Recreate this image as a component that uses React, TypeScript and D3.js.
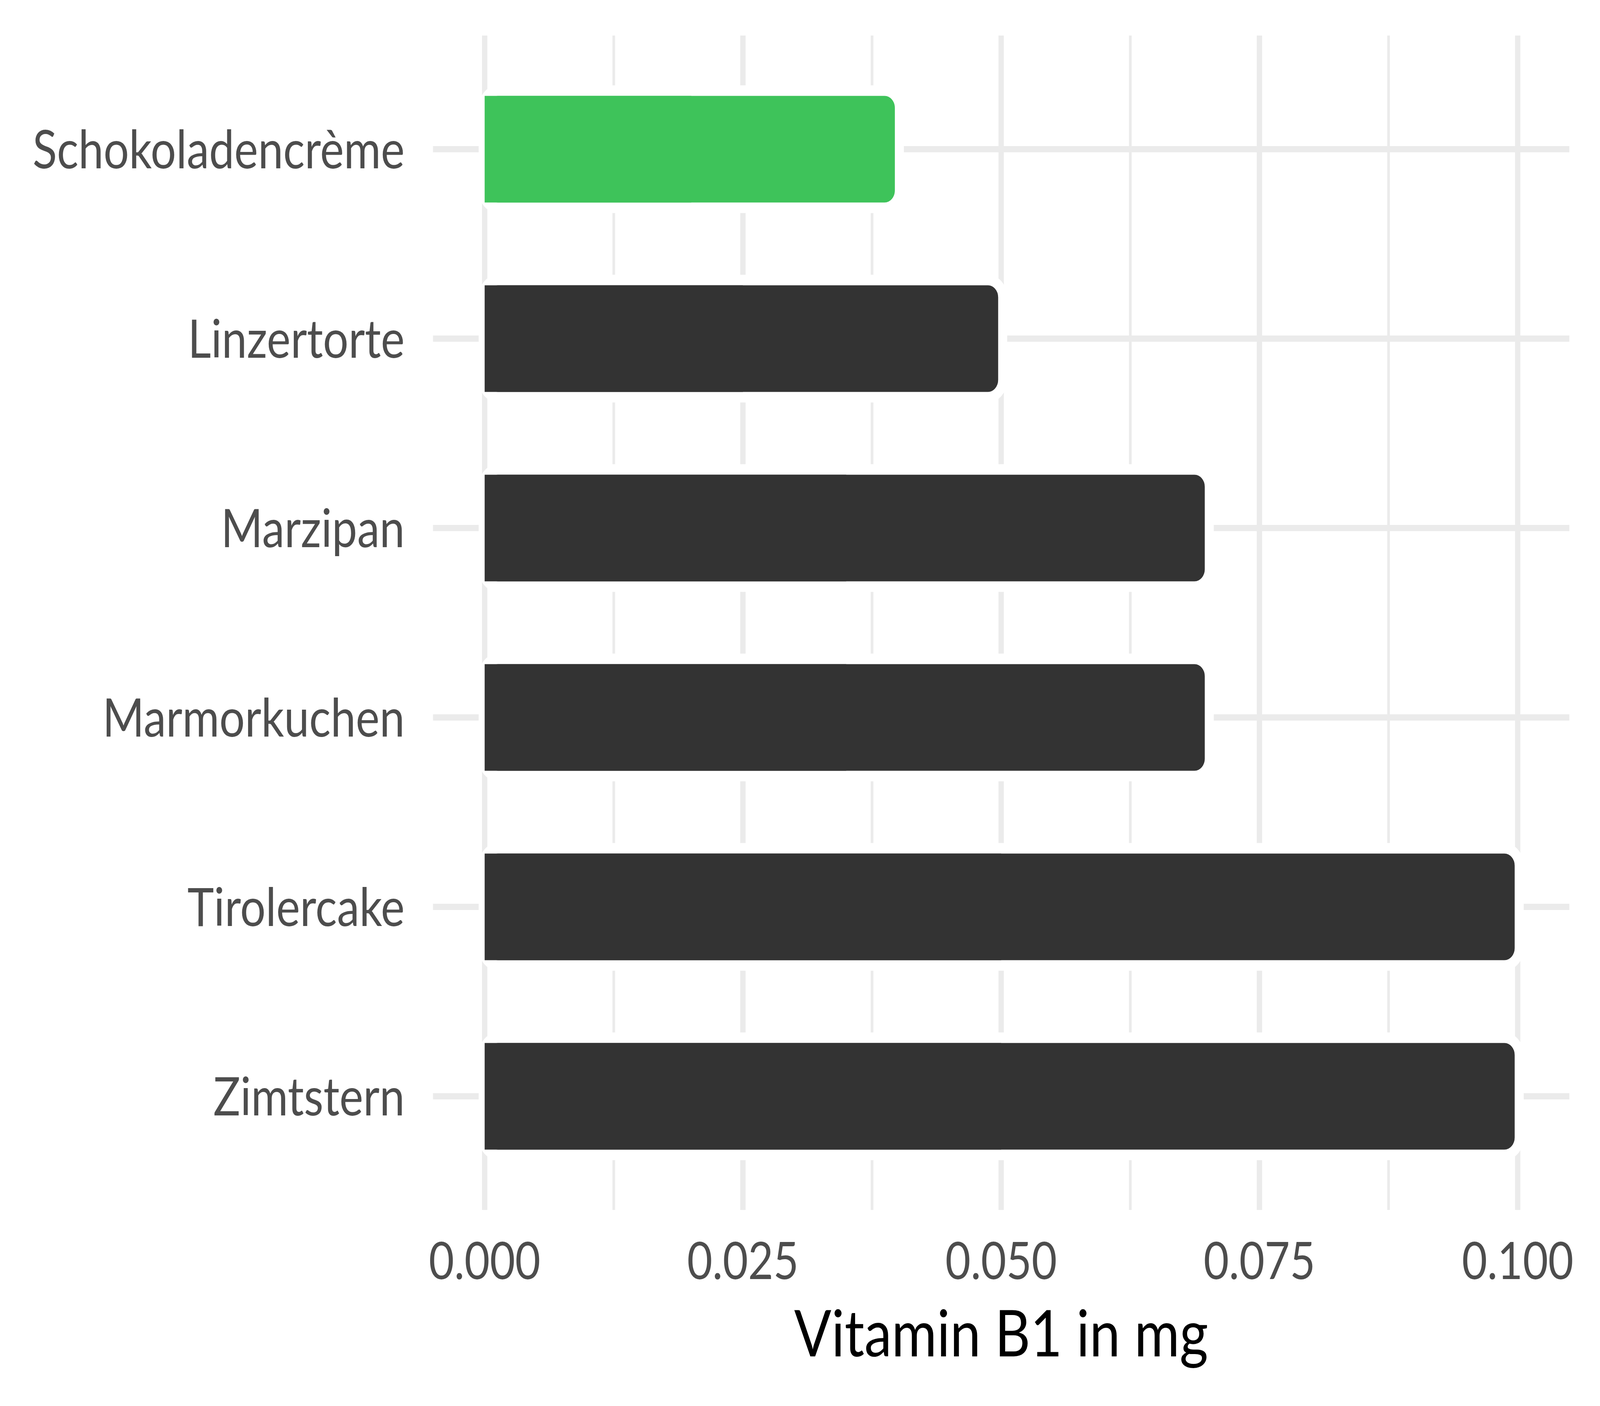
import * as d3 from 'd3';

// data
const categories = ['Schokoladencrème', 'Linzertorte', 'Marzipan', 'Marmorkuchen', 'Tirolercake', 'Zimtstern'];
const values = [0.04, 0.05, 0.07, 0.07, 0.1, 0.1];
const highlighted = 'Schokoladencrème';
const majorTicks = [0, 0.025, 0.05, 0.075, 0.1];
const minorTicks = [0.0125, 0.0375, 0.0625, 0.0875];
const axisTitle = 'Vitamin B1 in mg';

const W = 4800;
const H = 3600;
const panel = { left: 1299, right: 4708, top: 91, bottom: 3098 };

const FONT = 'Lato, "Open Sans", sans-serif';
const GRID = '#ebebeb';
const TEXT = '#4d4d4d';
const GREEN = '#3ec35a';
const DARK = '#333333';

export default function App() {
  const x = d3.scaleLinear().domain([-0.005, 0.105]).range([panel.left, panel.right]);
  const y = d3
    .scaleBand<string>()
    .domain(categories)
    .range([panel.top, panel.bottom])
    .paddingInner(0.4)
    .paddingOuter(0.3);

  const bw = y.bandwidth();
  const rx = 40;
  const data = categories.map((c, i) => ({ name: c, value: values[i] }));

  // the svg is stretched over the whole window, whatever its size
  return (
    <svg
      viewBox={`0 0 ${W} ${H}`}
      preserveAspectRatio="none"
      style={{ position: 'fixed', left: 0, top: 0, width: '100vw', height: '100vh', background: '#fff', display: 'block' }}
    >
      <rect x={0} y={0} width={W} height={H} fill="#fff" />

      {/* grid */}
      {minorTicks.map(t => (
        <line key={'mn' + t} x1={x(t)} x2={x(t)} y1={panel.top} y2={panel.bottom} stroke={GRID} strokeWidth={8} />
      ))}
      {majorTicks.map(t => (
        <line key={'mj' + t} x1={x(t)} x2={x(t)} y1={panel.top} y2={panel.bottom} stroke={GRID} strokeWidth={16} />
      ))}
      {categories.map(c => (
        <line
          key={'hy' + c}
          x1={panel.left}
          x2={panel.right}
          y1={(y(c) ?? 0) + bw / 2}
          y2={(y(c) ?? 0) + bw / 2}
          stroke={GRID}
          strokeWidth={16}
        />
      ))}

      {/* bars: white halo, rounded bar, square overlay on the left half */}
      {data.map(d => {
        const by = y(d.name) ?? 0;
        const x0 = x(0);
        const x1 = x(d.value);
        const fill = d.name === highlighted ? GREEN : DARK;
        return (
          <g key={d.name}>
            <rect x={x0} y={by} width={x1 - x0} height={bw} rx={rx} fill="#fff" stroke="#fff" strokeWidth={36} />
            <rect x={x0} y={by} width={x1 - x0} height={bw} rx={rx} fill={fill} stroke="#fff" strokeWidth={18} />
            <rect x={x0} y={by + 9} width={x(d.value / 2) - x0} height={bw - 18} fill={fill} />
          </g>
        );
      })}

      {/* y labels */}
      {categories.map(c => (
        <text
          key={'yl' + c}
          x={1214}
          y={(y(c) ?? 0) + bw / 2}
          dy="0.36em"
          textAnchor="end"
          fontFamily={FONT}
          fontSize={135}
          fill={TEXT}
        >
          {c}
        </text>
      ))}

      {/* x labels */}
      {majorTicks.map(t => (
        <text
          key={'xl' + t}
          x={x(t)}
          y={3275}
          textAnchor="middle"
          fontFamily={FONT}
          fontSize={131}
          fill={TEXT}
        >
          {d3.format('.3f')(t)}
        </text>
      ))}

      <text
        x={(panel.left + panel.right) / 2}
        y={3473}
        textAnchor="middle"
        fontFamily={FONT}
        fontSize={165}
        fill="#000"
      >
        {axisTitle}
      </text>
    </svg>
  );
}
